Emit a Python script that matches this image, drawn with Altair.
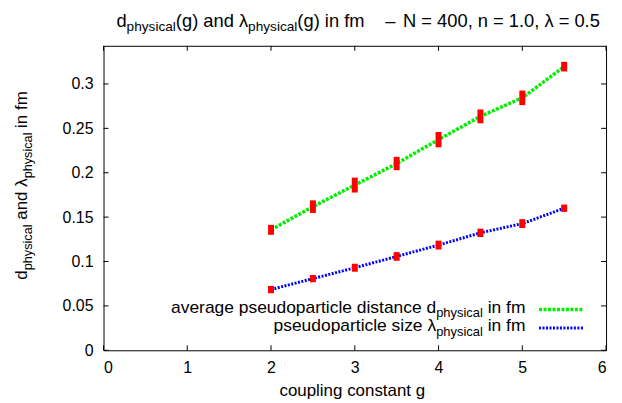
import altair as alt
import pandas as pd

# ---- data ----
g_values = [2.0, 2.5, 3.0, 3.5, 4.0, 4.5, 5.0, 5.5]
d_physical = [0.1357, 0.1618, 0.1861, 0.2104, 0.2373, 0.2635, 0.2844, 0.3195]
d_error = [0.0056, 0.0071, 0.0084, 0.0075, 0.0086, 0.0078, 0.0082, 0.0054]
lambda_physical = [0.0684, 0.0807, 0.0930, 0.1057, 0.1185, 0.1323, 0.1427, 0.1600]
lambda_error = [0.0041, 0.0041, 0.0045, 0.0049, 0.0050, 0.0047, 0.0050, 0.0041]
x_ticks = [0, 1, 2, 3, 4, 5, 6]
y_ticks = [0, 0.05, 0.1, 0.15, 0.2, 0.25, 0.3]

W, H = 505, 306
FONT = "Liberation Sans"

df = pd.DataFrame({
    "g": g_values,
    "d": d_physical,
    "d_lo": [v - e for v, e in zip(d_physical, d_error)],
    "d_hi": [v + e for v, e in zip(d_physical, d_error)],
    "lam": lambda_physical,
    "lam_lo": [v - e for v, e in zip(lambda_physical, lambda_error)],
    "lam_hi": [v + e for v, e in zip(lambda_physical, lambda_error)],
})
xt = pd.DataFrame({"v": x_ticks})
yt = pd.DataFrame({"v": y_ticks})

xscale = alt.Scale(domain=[0, 6], nice=False, zero=False)
yscale = alt.Scale(domain=[0, 0.343], nice=False, zero=False)
xaxis = alt.Axis(values=x_ticks, format="~g", title=None, labelPadding=9)
yaxis = alt.Axis(values=y_ticks, format="~g", title=None, labelPadding=10.5)

def X(field):
    return alt.X(field, type="quantitative", scale=xscale, axis=xaxis)

def Y(field):
    return alt.Y(field, type="quantitative", scale=yscale, axis=yaxis)

line_d = alt.Chart(df).mark_line(color="#00ee00", strokeWidth=3.5, strokeDash=[3, 1.5]).encode(
    x=X("g"), y=Y("d"))
line_l = alt.Chart(df).mark_line(color="#0000ff", strokeWidth=3, strokeDash=[2, 1.5]).encode(
    x=X("g"), y=Y("lam"))
err_d = alt.Chart(df).mark_rule(color="#ff0000", strokeWidth=6).encode(
    x=X("g"), y=Y("d_lo"), y2="d_hi")
err_l = alt.Chart(df).mark_rule(color="#ff0000", strokeWidth=6).encode(
    x=X("g"), y=Y("lam_lo"), y2="lam_hi")

# inward ticks on all four sides
tick_b = alt.Chart(xt).mark_rule(color="black").encode(x=X("v"), y=alt.value(H), y2=alt.value(H - 5))
tick_t = alt.Chart(xt).mark_rule(color="black").encode(x=X("v"), y=alt.value(0), y2=alt.value(5))
tick_l = alt.Chart(yt).mark_rule(color="black").encode(y=Y("v"), x=alt.value(0), x2=alt.value(5))
tick_r = alt.Chart(yt).mark_rule(color="black").encode(y=Y("v"), x=alt.value(W), x2=alt.value(W - 5))

def txt(s, x, y, size, align="left", angle=0):
    return alt.Chart(alt.Data(values=[{"k": 1}])).mark_text(
        text=s, font=FONT, fontSize=size, align=align, baseline="alphabetic",
        angle=angle, color="black").encode(x=alt.value(x), y=alt.value(y))

M, S = 18.4, 13.7
title_parts = [
    txt("d", 13, -19, M),
    txt("physical", 23.2, -15, S),
    txt("(g) and", 72.7, -19, M),
    txt("λ", 136.1, -19, M),
    txt("physical", 145.3, -15, S),
    txt("(g) in fm", 194.8, -19, M),
    txt("–", 283, -19, M),
    txt("N = 400, n = 1.0, λ = 0.5", 301, -19, M),
]

A, B = 17, 12.75
ylabel_parts = [
    txt("d", -77.3, 235, A, angle=270),
    txt("physical", -72.3, 225.6, B, angle=270),
    txt("and", -77.3, 174.8, A, angle=270),
    txt("λ", -77.3, 141.7, A, angle=270),
    txt("physical", -72.3, 133.2, B, angle=270),
    txt("in fm", -77.3, 82.5, A, angle=270),
]

xlabel = txt("coupling constant g", 250, 351.5, A, align="center")

L, LS = 17.5, 13
legend_parts = [
    txt("average pseudoparticle distance", 319.7, 268.3, L, align="right"),
    txt("d", 334.3, 268.3, L, align="right"),
    txt("physical", 381.2, 273, LS, align="right"),
    txt("in fm", 424, 268.3, L, align="right"),
    txt("pseudoparticle size", 320.6, 287, L, align="right"),
    txt("λ", 334.3, 287, L, align="right"),
    txt("physical", 381.2, 291.7, LS, align="right"),
    txt("in fm", 424, 287, L, align="right"),
]
leg_d = alt.Chart(alt.Data(values=[{"k": 1}])).mark_rule(
    color="#00ee00", strokeWidth=3.5, strokeDash=[3, 1.5]).encode(
    x=alt.value(437.7), x2=alt.value(482.7), y=alt.value(265))
leg_l = alt.Chart(alt.Data(values=[{"k": 1}])).mark_rule(
    color="#0000ff", strokeWidth=3, strokeDash=[2, 1.5]).encode(
    x=alt.value(437.7), x2=alt.value(482.7), y=alt.value(283.5))

chart = alt.layer(
    line_d, line_l, err_d, err_l, tick_b, tick_t, tick_l, tick_r,
    *title_parts, *ylabel_parts, xlabel, *legend_parts, leg_d, leg_l
).properties(
    width=W, height=H,
    autosize=alt.AutoSizeParams(type="none"),
    padding={"left": 96, "top": 37, "right": 8, "bottom": 52},
    background="white",
).configure_view(
    stroke="black", strokeWidth=1
).configure_axis(
    domain=False, grid=False, ticks=False, tickSize=0,
    labelFont=FONT, labelFontSize=16, labelColor="black",
)

chart.save("out.html", embed_options={"renderer": "svg", "actions": False})
